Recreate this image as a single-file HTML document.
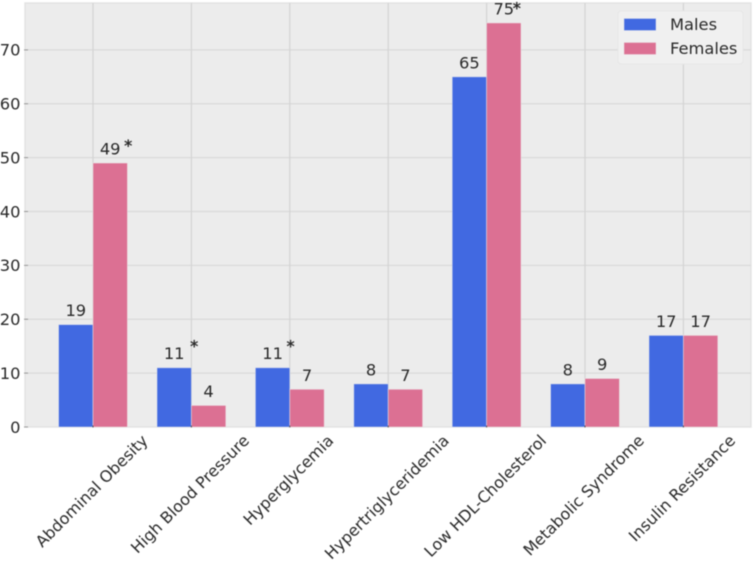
<!DOCTYPE html>
<html>
<head>
<meta charset="utf-8">
<style>
html,body{margin:0;padding:0;background:#fff;width:754px;height:562px;overflow:hidden}
svg{display:block;filter:blur(0.5px)}
text{font-family:"DejaVu Sans","Liberation Sans",sans-serif;fill:#2a2a2a}
</style>
</head>
<body>
<svg id="chart" width="754" height="562" viewBox="0 0 754 562" xmlns="http://www.w3.org/2000/svg"></svg>
<script>
const categories = ["Abdominal Obesity","High Blood Pressure","Hyperglycemia","Hypertriglyceridemia","Low HDL-Cholesterol","Metabolic Syndrome","Insulin Resistance"];
const males = [19,11,11,8,65,8,17];
const females = [49,4,7,7,75,9,17];
const malesSignificant = [false,true,true,false,false,false,false];
const femalesSignificant = [true,false,false,false,true,false,false];
const yTicks = [0,10,20,30,40,50,60,70];
const seriesNames = ["Males","Females"];

const plot = {left:25, right:751, top:3, bottom:427};
const yMax = 78.7;
const firstCenter = 93, categoryStep = 98.4, barWidth = 34.4;
const colors = ["#4169e1","#dc7093"];
const svg = document.getElementById('chart');
const NS = 'http://www.w3.org/2000/svg';

function xScale(i){ return firstCenter + i * categoryStep; }
function yScale(v){ return plot.bottom - (v / yMax) * (plot.bottom - plot.top); }
function make(tag, attrs, parent){
  const el = document.createElementNS(NS, tag);
  for (const k in attrs) el.setAttribute(k, attrs[k]);
  (parent || svg).appendChild(el);
  return el;
}

const bg = make('rect',{x:plot.left,y:plot.top,width:plot.right-plot.left,height:plot.bottom-plot.top,fill:'#ececec',stroke:'#e2e2e2','stroke-width':1.4});



yTicks.forEach(function(t){
  const y = yScale(t);
  if (t > 0) {
    const g = make('line',{x1:plot.left,x2:plot.right,y1:y,y2:y,stroke:'#d9d9d9','stroke-width':1.2});
    
    
  }
  const m = make('line',{x1:plot.left-1,x2:plot.left+3,y1:y,y2:y,stroke:'#8a8a8a','stroke-width':0.8});
  
  
  const l = make('text',{x:plot.left-4.5,y:y+5.8,'text-anchor':'end','font-size':16.3});
  l.textContent = t;
  
  
});

categories.forEach(function(c,i){
  const x = xScale(i);
  const g = make('line',{x1:x,x2:x,y1:plot.top,y2:plot.bottom,stroke:'#d4d4d4','stroke-width':1.2});
  
  
});

function drawBar(value, i, seriesIndex){
  const x = seriesIndex === 0 ? xScale(i) - barWidth : xScale(i);
  const y = yScale(value);
  const r = make('rect',{x:x,y:y,width:barWidth,height:plot.bottom-y,fill:colors[seriesIndex],stroke:'#eeeeee','stroke-opacity':0.55,'stroke-width':0.8});
  
  
  const t = make('text',{x:x+barWidth/2,y:y-8.5,'text-anchor':'middle','font-size':16.3});
  t.textContent = value;
  
  
}
function drawStar(value, i, seriesIndex, dx, dy){
  const cx = seriesIndex === 0 ? xScale(i) - barWidth/2 : xScale(i) + barWidth/2;
  const s = make('text',{x:cx+dx,y:yScale(value)+dy,'text-anchor':'middle','font-size':16.3,stroke:'#2a2a2a','stroke-width':0.35});
  s.textContent = '*';
  
  
}
function isTallest(i){ return females[i] > 70; }
males.forEach(function(v,i){ drawBar(v,i,0); });
females.forEach(function(v,i){ drawBar(v,i,1); });
malesSignificant.forEach(function(sig,i){ if (sig) drawStar(males[i], i, 0, i === 1 ? 20 : 18, -16); });
femalesSignificant.forEach(function(sig,i){ if (sig) drawStar(females[i], i, 1, isTallest(i) ? 13 : 18, isTallest(i) ? -9.5 : -12); });

categories.forEach(function(c,i){
  const x = xScale(i);
  const tick = make('line',{x1:x,x2:x,y1:plot.bottom-1.5,y2:plot.bottom+0.5,stroke:'#555','stroke-width':1});
  
  
  const t = make('text',{x:0,y:0,'text-anchor':'middle','font-size':15.9});
  t.textContent = c;
  const len = t.getComputedTextLength();
  const half = (len + 16) * Math.SQRT1_2 / 2;
  const cy = 432 + half;
  t.setAttribute('transform','translate(' + (x - 1.5) + ' ' + cy + ') rotate(-45) translate(0 5.6)');
  
  
});

const legend = make('g',{});


make('rect',{x:618,y:11,width:125,height:53,rx:3,fill:'#f0f0f0',stroke:'#e6e6e6','stroke-width':1},legend);
seriesNames.forEach(function(n,i){
  const y = 18.5 + i * 24;
  const s = make('rect',{x:624,y:y,width:32,height:12,fill:colors[i],stroke:'#eeeeee','stroke-opacity':0.5,'stroke-width':0.8},legend);
  
  
  const t = make('text',{x:670,y:y+11.5,'font-size':16.3},legend);
  t.textContent = n;
  
  
});
</script>
</body>
</html>
